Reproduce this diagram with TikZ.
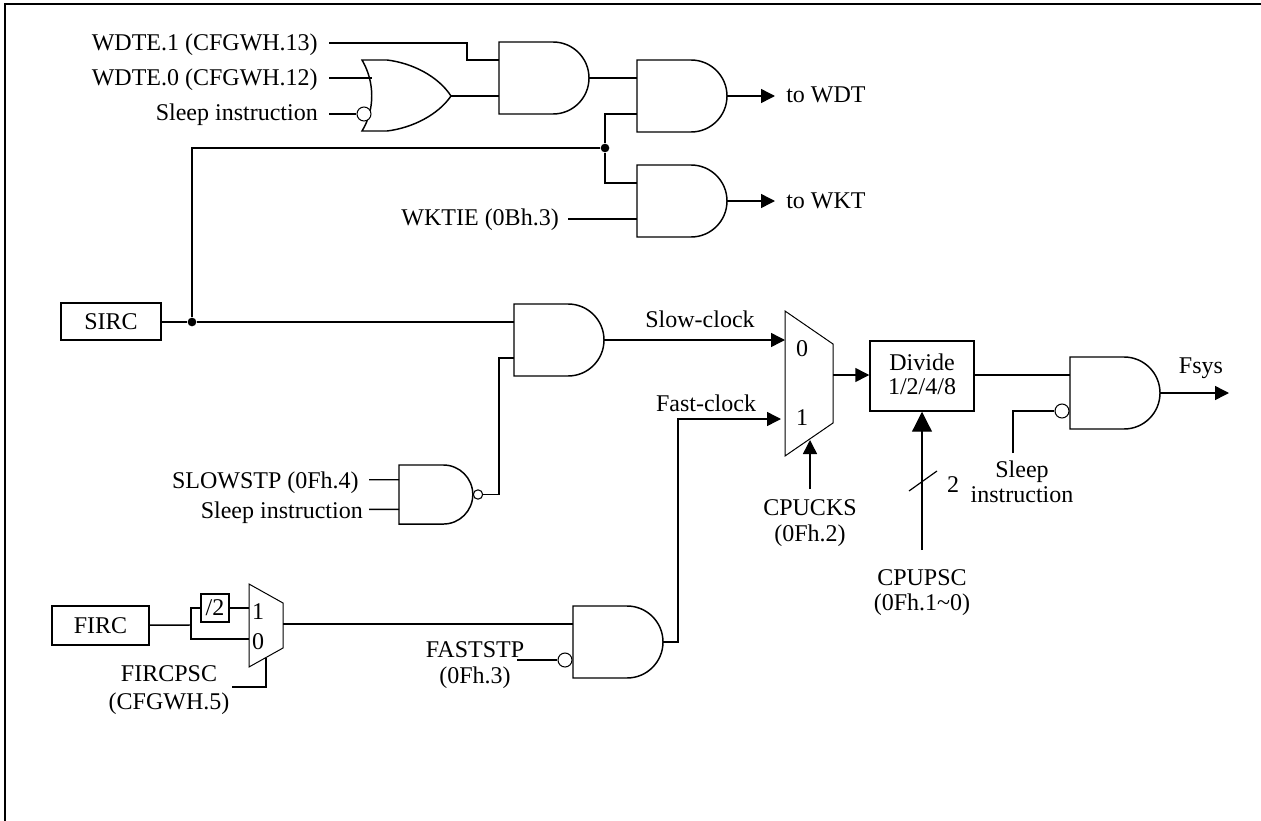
\documentclass[tikz,border=0pt]{standalone}
\usepackage{fontspec}
\setmainfont{Liberation Serif}
\usetikzlibrary{arrows.meta,calc}
\tikzset{
  wire/.style={line width=1.1pt},
  gateline/.style={line width=1.1pt},
  thin mux/.style={line width=0.75pt},
  bubble/.style={circle,draw,fill=white,line width=0.8pt,inner sep=0pt,minimum size=#1},
  bubble/.default=10.5pt,
  dotj/.style={circle,fill=black,inner sep=0pt,minimum size=6.5pt},
  lbl/.style={inner sep=0pt,yshift=-3pt,font=\fontsize{18pt}{21pt}\selectfont},
  lblr/.style={lbl,anchor=mid east},
  lblc/.style={lbl,anchor=mid},
  lbll/.style={lbl,anchor=mid west},
  boxn/.style={draw,line width=1.1pt,inner sep=0pt,font=\fontsize{18pt}{21pt}\selectfont,align=center},
  arr/.style={wire,-{Triangle[length=10.5pt,width=10.5pt]}},
  arrbig/.style={line width=0.9pt,-{Triangle[length=15pt,width=15pt]}},
  andg/.pic={
    \draw[gateline] (0,0) -- (54,0) .. controls (73.9,0) and (90,16.1) .. (90,36)
      .. controls (90,55.9) and (73.9,72) .. (54,72) -- (0,72) -- cycle;
    \coordinate (-a) at (0,18);
    \coordinate (-b) at (0,54);
    \coordinate (-o) at (90,36);
  },
  org/.pic={
    \draw[gateline] (0,0) -- (25,0) .. controls (50,3) and (76,16) .. (89,36)
      .. controls (76,55) and (50,68) .. (25,71) -- (0,71)
      .. controls (13,50) and (13,22) .. (0,0) -- cycle;
    \coordinate (-a) at (10,18);
    \coordinate (-b) at (10,53);
    \coordinate (-o) at (89,36);
  },
}
\begin{document}
\begin{tikzpicture}[x=0.75pt,y=-0.75pt]
\useasboundingbox (0,0) rectangle (1261,821);
% frame
\draw[line width=1.5pt] (5,824) -- (5,4) -- (1264,4);
% gates
\pic (and1) at (499,42) {andg};
\pic (and2) at (637,60) {andg};
\pic (and3) at (637,165) {andg};
\pic (and4) at (514,304) {andg};
\pic (and5) at (1070,357) {andg};
\pic (and6) at (573,606) {andg};
\pic (or1) at (362,60) {org};
\pic[scale=0.82] (nand) at (399,465) {andg};
% boxes
\node[boxn,minimum width=75pt,minimum height=27.75pt] (sirc) at (111,321.5) {SIRC};
\node[boxn,minimum width=72.75pt,minimum height=29.25pt] (firc) at (100.5,625.5) {FIRC};
\node[boxn,minimum width=21pt,minimum height=21pt] (div2) at (215,608) {/2};
\node[boxn,minimum width=78pt,minimum height=52.5pt] (divide) at (922,376) {};
\node[lblc] at (922,363) {Divide};
\node[lblc] at (922,387) {1/2/4/8};
% muxes
\draw[thin mux] (785,311) -- (833,344) -- (833,423) -- (785,456) -- cycle;
\draw[thin mux] (249,584) -- (283,603) -- (283,648) -- (249,667) -- cycle;
\coordinate (mA-0) at (785,340);
\coordinate (mA-1) at (781,419);
\coordinate (mA-o) at (833,375);
\coordinate (mA-s) at (810,440);
\coordinate (mB-1) at (249,608);
\coordinate (mB-0) at (249,639);
\coordinate (mB-o) at (283,624);
\coordinate (mB-s) at (266,658);
\node[lblc] at (802,349) {0};
\node[lblc] at (802,418) {1};
\node[lblc] at (258,612) {1};
\node[lblc] at (258,642) {0};
% junctions
\node[dotj] (j1) at (605,148) {};
\node[dotj] (j2) at (192,322) {};
\coordinate (j3) at (191,625);
% bubbles
\node[bubble] (bor) at (364,114) {};
\node[bubble] (b5) at (1062,411) {};
\node[bubble] (b6) at (565,660) {};
\node[bubble=7pt] (bn) at (478,494.5) {};
% labels
\node[lblr] (l1) at (318,43) {WDTE.1 (CFGWH.13)};
\node[lblr] (l2) at (318,78) {WDTE.0 (CFGWH.12)};
\node[lblr] (l3) at (318,113) {Sleep instruction};
\node[lblr] (l4) at (559,218) {WKTIE (0Bh.3)};
\node[lblr] (l5) at (359,481) {SLOWSTP (0Fh.4)};
\node[lblr] (l6) at (363,511) {Sleep instruction};
\node[lblc] at (700,320) {Slow-clock};
\node[lblc] at (706,404) {Fast-clock};
\node[lblc] at (810,508) {CPUCKS};
\node[lblc] at (810,534) {(0Fh.2)};
\node[lblc] at (922,578) {CPUPSC};
\node[lblc] at (922,603) {(0Fh.1\textasciitilde0)};
\node[lblc] at (953,485) {2};
\node[lblc] at (1022,470) {Sleep};
\node[lblc] at (1022,495) {instruction};
\node[lblc] at (1201,366) {Fsys};
\node[lblc] at (475,650) {FASTSTP};
\node[lblc] at (475,676) {(0Fh.3)};
\node[lblc] at (169,674) {FIRCPSC};
\node[lblc] at (169,702) {(CFGWH.5)};
\node[lbll] (twdt) at (786,95) {to WDT};
\node[lbll] (twkt) at (786,201) {to WKT};
% free ends
\coordinate (s1) at (329,43);
\coordinate (s2) at (329,78);
\coordinate (s3) at (329,114);
\coordinate (s4) at (568,219);
\coordinate (s5) at (369,479.76);
\coordinate (s6) at (369,509.28);
\coordinate (s7) at (517,660);
\coordinate (s8) at (1013,453);
\coordinate (s9) at (810,489);
\coordinate (s10) at (922,550);
\coordinate (s11) at (232,687);
\coordinate (e1) at (775,96);
\coordinate (e2) at (775,201);
\coordinate (e3) at (1229,393);
% connectors
\draw[wire] (s1) -- (467,43) |- (and1-a);
\draw[wire] (s2) -- (or1-a);
\draw[wire] (s3) -- (bor);
\draw[wire] (or1-o) -- (and1-b);
\draw[wire] (and1-o) -- (and2-a);
\draw[wire] (and2-b) -| (j1);
\draw[wire] (and3-a) -| (j1);
\draw[wire] (j1) -| (j2);
\draw[wire] (s4) -- (and3-b);
\draw[arr] (and2-o) -- (e1);
\draw[arr] (and3-o) -- (e2);
\draw[wire] (sirc.east |- j2) -- (j2) -- (and4-a);
\draw[arr] (and4-o) -- (mA-0);
\draw[wire] (s5) -- (nand-a);
\draw[wire] (s6) -- (nand-b);
\draw[wire] (bn) -| (499,358) -- (and4-b);
\draw[wire] (firc) -- (j3);
\draw[wire] (j3) |- (div2);
\draw[wire] (div2) -- (mB-1);
\draw[wire] (j3) |- (mB-0);
\draw[wire] (mB-o) -- (and6-a);
\draw[wire] (s7) -- (b6);
\draw[wire] (s11) -| (mB-s);
\draw[arr] (and6-o) -| (678,419) -- (mA-1);
\draw[arr] (s9) -- (mA-s);
\draw[arr] (mA-o) -- (divide.west |- mA-o);
\draw[arrbig] (s10) -- (divide.south);
\draw[line width=0.9pt] (909,491) -- (937,471);
\draw[wire] (divide.east |- and5-a) -- (and5-a);
\draw[wire] (s8) |- (b5);
\draw[arr] (and5-o) -- (e3);
\end{tikzpicture}
\end{document}
